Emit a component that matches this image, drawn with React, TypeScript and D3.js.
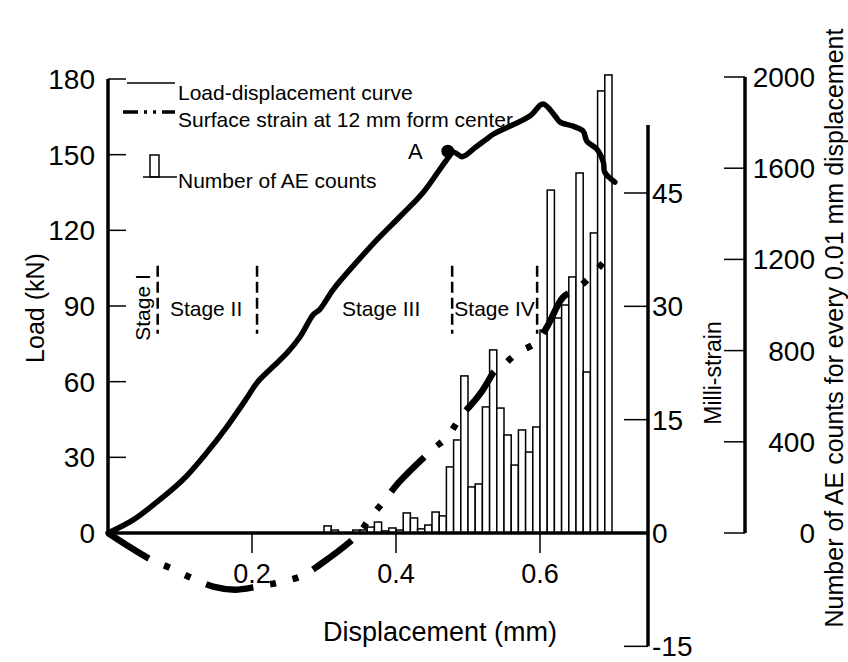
import React, { useEffect, useRef } from 'react';
import * as d3 from 'd3';

// load-displacement curve: [displacement (mm), load (kN)]
const loadCurve: [number, number][] = [
    [0, 0], [0.035, 5.2], [0.068, 12.3], [0.104, 21.1], [0.137, 31.8], [0.165, 42.1],
    [0.193, 53.6], [0.207, 59.6], [0.229, 65.9], [0.249, 71.5], [0.267, 77.9], [0.278, 83.4],
    [0.285, 86.6], [0.294, 88.6], [0.313, 96.6], [0.34, 105.7], [0.374, 116.4], [0.406, 125.6],
    [0.438, 135.1], [0.471, 148.2], [0.48, 151.0], [0.492, 149.2], [0.51, 152.8], [0.526, 156.2],
    [0.535, 158.1], [0.586, 165.3], [0.604, 170.1], [0.621, 165.3], [0.628, 162.9], [0.646, 161.3],
    [0.66, 159.3], [0.665, 155.4], [0.679, 152.2], [0.688, 147.0], [0.69, 143.0], [0.704, 139.1]
];

// surface strain at 12 mm from center: [displacement (mm), milli-strain]
const strainCurve: [number, number][] = [
    [0, 0], [0.061, -3.6], [0.086, -4.6], [0.117, -6.0], [0.146, -7.1], [0.176, -7.5],
    [0.207, -7.1], [0.239, -6.5], [0.269, -5.7], [0.294, -4.2], [0.346, -0.3], [0.364, 2.0],
    [0.385, 4.4], [0.403, 6.6], [0.45, 11.0], [0.471, 12.7], [0.49, 15.4], [0.51, 17.6],
    [0.519, 18.7], [0.528, 20.1], [0.536, 21.3], [0.549, 22.2], [0.568, 23.8], [0.596, 25.3],
    [0.611, 27.5], [0.632, 31.2], [0.651, 32.3], [0.672, 34.1], [0.694, 36.5]
];

// AE counts for every 0.01 mm, starting at aeStart
const aeStart = 0.30;
const aeBin = 0.01;
const aeCounts = [
    31, 13, 0, 0, 13, 13, 26, 48, 9, 22, 13, 88, 66, 18, 35, 92, 75, 290, 408, 689,
    202, 215, 553, 803, 548, 430, 298, 452, 355, 465, 890, 1504, 943, 1000, 1123, 1579, 706, 1316, 1939, 2009
];

const loadTicks = [0, 30, 60, 90, 120, 150, 180];
const dispTicks = [0.2, 0.4, 0.6];
const strainTicks = [-15, 0, 15, 30, 45];
const aeTicks = [0, 400, 800, 1200, 1600, 2000];

// stage boundaries (mm) and labels
const stageBounds = [0.069, 0.207, 0.478, 0.596];
const stageLabels = [
    { label: 'Stage II', d: 0.086 },
    { label: 'Stage III', d: 0.325 },
    { label: 'Stage IV', d: 0.481 }
];
const pointA: [number, number] = [0.472, 151.4];

const FONT = 'Arial, "Liberation Sans", sans-serif';

const App: React.FC = () => {
    const svgRef = useRef<SVGSVGElement>(null);

    useEffect(() => {
        if (!svgRef.current) return;
        const svg = d3.select(svgRef.current);
        svg.selectAll('*').remove();

        const x = d3.scaleLinear().domain([0, 0.6]).range([108, 540]);
        const yLoad = d3.scaleLinear().domain([0, 180]).range([533, 79]);
        const yStrain = d3.scaleLinear().domain([0, 45]).range([533, 193]);
        const yAE = d3.scaleLinear().domain([0, 2000]).range([533, 77]);

        const g = svg.append('g').style('font-family', FONT);

        // AE histogram
        g.append('g')
            .selectAll('rect')
            .data(aeCounts)
            .enter()
            .append('rect')
            .attr('x', (d, i) => x(aeStart + i * aeBin))
            .attr('y', (d) => yAE(d))
            .attr('width', x(aeBin) - x(0))
            .attr('height', (d) => yAE(0) - yAE(d))
            .attr('fill', 'white')
            .attr('stroke', 'black')
            .attr('stroke-width', 1.5);

        // x axis
        g.append('line')
            .attr('x1', x(0)).attr('x2', 648)
            .attr('y1', yLoad(0)).attr('y2', yLoad(0))
            .attr('stroke', 'black').attr('stroke-width', 3.5);
        dispTicks.forEach((t) => {
            g.append('line')
                .attr('x1', x(t)).attr('x2', x(t))
                .attr('y1', yLoad(0)).attr('y2', yLoad(0) + 20)
                .attr('stroke', 'black').attr('stroke-width', 1.5);
            g.append('text')
                .attr('x', x(t)).attr('y', 583)
                .attr('text-anchor', 'middle')
                .style('font-size', '27px')
                .text(String(t));
        });
        g.append('text')
            .attr('x', 440).attr('y', 641)
            .attr('text-anchor', 'middle')
            .style('font-size', '27px')
            .text('Displacement (mm)');

        // load axis (left)
        g.append('line')
            .attr('x1', x(0)).attr('x2', x(0))
            .attr('y1', yLoad(180)).attr('y2', yLoad(0))
            .attr('stroke', 'black').attr('stroke-width', 3.5);
        loadTicks.forEach((t) => {
            g.append('line')
                .attr('x1', x(0)).attr('x2', x(0) + 18)
                .attr('y1', yLoad(t)).attr('y2', yLoad(t))
                .attr('stroke', 'black').attr('stroke-width', 1.5);
            g.append('text')
                .attr('x', 95).attr('y', yLoad(t) + 10)
                .attr('text-anchor', 'end')
                .style('font-size', '28px')
                .text(String(t));
        });
        g.append('text')
            .attr('transform', 'translate(44,308) rotate(-90)')
            .attr('text-anchor', 'middle')
            .style('font-size', '25px')
            .text('Load (kN)');

        // milli-strain axis
        const sx = 648;
        g.append('line')
            .attr('x1', sx).attr('x2', sx)
            .attr('y1', yStrain(54)).attr('y2', yStrain(-15))
            .attr('stroke', 'black').attr('stroke-width', 3.5);
        strainTicks.forEach((t) => {
            if (t !== 0) {
                g.append('line')
                    .attr('x1', sx - 24).attr('x2', sx)
                    .attr('y1', yStrain(t)).attr('y2', yStrain(t))
                    .attr('stroke', 'black').attr('stroke-width', 1.5);
            }
            g.append('text')
                .attr('x', sx + 4).attr('y', yStrain(t) + 10)
                .style('font-size', '28px')
                .text(String(t));
        });
        g.append('text')
            .attr('transform', 'translate(721,373) rotate(-90)')
            .attr('text-anchor', 'middle')
            .style('font-size', '23px')
            .text('Milli-strain');

        // AE axis
        const ax = 745;
        g.append('line')
            .attr('x1', ax).attr('x2', ax)
            .attr('y1', yAE(2000)).attr('y2', yAE(0))
            .attr('stroke', 'black').attr('stroke-width', 3.5);
        aeTicks.forEach((t) => {
            g.append('line')
                .attr('x1', ax - 21).attr('x2', ax)
                .attr('y1', yAE(t)).attr('y2', yAE(t))
                .attr('stroke', 'black').attr('stroke-width', 1.5);
            g.append('text')
                .attr('x', 815).attr('y', yAE(t) + 10)
                .attr('text-anchor', 'end')
                .style('font-size', '28px')
                .text(String(t));
        });
        g.append('text')
            .attr('transform', 'translate(843,328) rotate(-90)')
            .attr('text-anchor', 'middle')
            .style('font-size', '25px')
            .text('Number of AE counts for every 0.01 mm displacement');

        // stage boundaries
        stageBounds.forEach((b) => {
            g.append('line')
                .attr('x1', x(b)).attr('x2', x(b))
                .attr('y1', yLoad(106)).attr('y2', yLoad(79))
                .attr('stroke', 'black').attr('stroke-width', 2.5)
                .attr('stroke-dasharray', '11 5');
        });
        stageLabels.forEach((s) => {
            g.append('text')
                .attr('x', x(s.d)).attr('y', yLoad(86.2))
                .style('font-size', '21px')
                .text(s.label);
        });
        g.append('text')
            .attr('transform', `translate(${x(0.058)},${yLoad(89.4)}) rotate(-90)`)
            .attr('text-anchor', 'middle')
            .style('font-size', '21px')
            .text('Stage I');

        // strain curve
        const strainLine = d3.line<[number, number]>()
            .x((d) => x(d[0]))
            .y((d) => yStrain(d[1]))
            .curve(d3.curveCatmullRom);
        g.append('path')
            .attr('d', strainLine(strainCurve))
            .attr('fill', 'none')
            .attr('stroke', 'black')
            .attr('stroke-width', 6.5)
            .attr('stroke-dasharray', '48 17 6 17 6 17');

        // load curve
        const loadLine = d3.line<[number, number]>()
            .x((d) => x(d[0]))
            .y((d) => yLoad(d[1]))
            .curve(d3.curveCatmullRom);
        g.append('path')
            .attr('d', loadLine(loadCurve))
            .attr('fill', 'none')
            .attr('stroke', 'black')
            .attr('stroke-width', 5.5)
            .attr('stroke-linejoin', 'round')
            .attr('stroke-linecap', 'round');

        // point A
        g.append('circle')
            .attr('cx', x(pointA[0])).attr('cy', yLoad(pointA[1]))
            .attr('r', 6.5).attr('fill', 'black');
        g.append('text')
            .attr('x', 408).attr('y', 159)
            .style('font-size', '22px')
            .text('A');

        // legend
        const lg = g.append('g');
        lg.append('line')
            .attr('x1', 127).attr('x2', 175).attr('y1', 83).attr('y2', 83)
            .attr('stroke', 'black').attr('stroke-width', 1.5);
        lg.append('text').attr('x', 178).attr('y', 100)
            .style('font-size', '21px').text('Load-displacement curve');
        lg.append('line')
            .attr('x1', 123).attr('x2', 175).attr('y1', 112).attr('y2', 112)
            .attr('stroke', 'black').attr('stroke-width', 3.5)
            .attr('stroke-dasharray', '15 6 3 6 3 6 15');
        lg.append('text').attr('x', 178).attr('y', 127)
            .style('font-size', '21px').text('Surface strain at 12 mm form center');
        lg.append('rect')
            .attr('x', 150).attr('y', 155).attr('width', 9).attr('height', 22)
            .attr('fill', 'white').attr('stroke', 'black').attr('stroke-width', 1.5);
        lg.append('line')
            .attr('x1', 143).attr('x2', 177).attr('y1', 177).attr('y2', 177)
            .attr('stroke', 'black').attr('stroke-width', 1.5);
        lg.append('text').attr('x', 178).attr('y', 188)
            .style('font-size', '21px').text('Number of AE counts');

        return () => {
            svg.selectAll('*').remove();
        };
    }, []);

    return (
        <svg
            ref={svgRef}
            width={848}
            height={662}
            style={{ position: 'absolute', left: 0, top: 0, background: 'white' }}
        />
    );
};

export default App;
